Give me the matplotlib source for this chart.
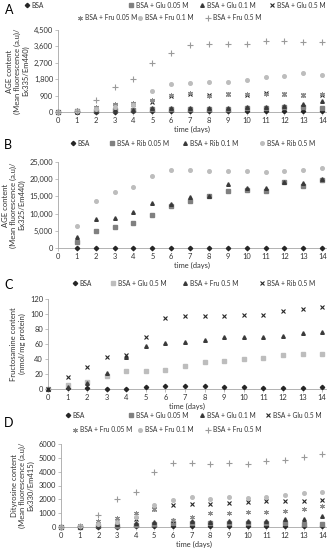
import matplotlib
matplotlib.use("Agg")
import matplotlib.pyplot as plt
from matplotlib.lines import Line2D
from matplotlib.ticker import FuncFormatter

plt.rcParams["font.family"] = ["Lato", "DejaVu Sans"]

W, H = 329, 550

DAYS = list(range(15))
DAYS_B = list(range(1, 15))

# panel A - AGE content, glucose / fructose
A_BSA = [0, 10, 20, 20, 30, 30, 30, 40, 30, 30, 40, 30, 40, 40, 40]
A_GLU_005 = [0, 30, 80, 120, 100, 150, 150, 180, 170, 170, 200, 220, 250, 250, 220]
A_GLU_01 = [0, 20, 60, 100, 120, 200, 200, 220, 220, 200, 260, 300, 350, 450, 580]
A_GLU_05 = [0, 80, 200, 350, 450, 550, 900, 1000, 950, 980, 950, 1020, 980, 950, 950]
A_FRU_005 = [0, 100, 280, 450, 520, 650, 950, 1050, 880, 1000, 970, 980, 1000, 930, 1000]
A_FRU_01 = [0, 30, 150, 300, 400, 1150, 1520, 1575, 1650, 1650, 1780, 1900, 1990, 2130, 2020]
A_FRU_05 = [0, 50, 640, 1390, 1795, 2705, 3254, 3700, 3750, 3750, 3720, 3900, 3870, 3820, 3830]

# panel B - AGE content, ribose
B_BSA = [0, 0, 0, 0, 0, 0, 0, 0, 0, 0, 0, 0, 0, 0]
B_RIB_005 = [1660, 4850, 6200, 7360, 9590, 12210, 13800, 15000, 16570, 17000, 16570, 19100, 18000, 19800]
B_RIB_01 = [3100, 8340, 8630, 10560, 13000, 12700, 14700, 15200, 18500, 17440, 17440, 19270, 19000, 20030]
B_RIB_05 = [6400, 13660, 16370, 17830, 20930, 22670, 22670, 22380, 22380, 22380, 22000, 22380, 22670, 23150]

# panel C - fructosamine
C_BSA = [0, 1, 1, 0, 0, 3, 4, 4, 4, 3, 3, 1, 1, 2, 3]
C_GLU_05 = [0, 5, 10, 17, 24, 24, 26, 31, 36, 38, 40, 42, 45, 47, 47]
C_FRU_05 = [0, 3, 8, 22, 43, 58, 61, 63, 66, 69, 70, 70, 71, 75, 76]
C_RIB_05 = [0, 16, 30, 43, 46, 70, 95, 98, 98, 98, 99, 99, 104, 107, 109]

# panel D - dityrosine
D_BSA = [0, 20, 30, 30, 40, 50, 50, 50, 50, 50, 50, 50, 50, 50, 50]
D_GLU_005 = [0, 20, 50, 100, 150, 250, 300, 320, 300, 320, 320, 300, 280, 220, 200]
D_GLU_01 = [0, 30, 100, 200, 300, 380, 500, 400, 380, 420, 420, 460, 550, 600, 820]
D_GLU_05 = [0, 60, 250, 400, 550, 1330, 1610, 1660, 1690, 1730, 1810, 1860, 1900, 1860, 1980]
D_FRU_005 = [0, 100, 400, 630, 990, 1280, 500, 700, 1010, 1010, 1080, 1080, 1130, 1300, 1500]
D_FRU_01 = [0, 60, 200, 350, 700, 1590, 1950, 2170, 2020, 2170, 2100, 2170, 2290, 2460, 2530]
D_FRU_05 = [0, 100, 890, 2050, 2550, 3980, 4630, 4630, 4580, 4630, 4560, 4750, 4870, 5060, 5280]

DARK = "#262626"
MID = "#808080"
LIGHT = "#bdbdbd"

STY_BSA = dict(marker="D", color=DARK, ms=2.2)
STY_G005 = dict(marker="s", color=MID, ms=2.4)
STY_G01 = dict(marker="^", color="#3a3a3a", ms=2.6)
STY_G05 = dict(marker="x", color=DARK, ms=3.2, mew=0.8)
STY_F005 = dict(marker=(6, 2, 0), color="#8c8c8c", ms=3.6, mew=0.7)
STY_F01 = dict(marker="o", color=LIGHT, ms=2.6)
STY_F05 = dict(marker="+", color="#9a9a9a", ms=3.8, mew=0.8)

PANEL_A = [
    ("BSA", A_BSA, STY_BSA),
    ("BSA + Glu 0.05 M", A_GLU_005, STY_G005),
    ("BSA + Glu 0.1 M", A_GLU_01, STY_G01),
    ("BSA + Glu 0.5 M", A_GLU_05, STY_G05),
    ("BSA + Fru 0.05 M", A_FRU_005, STY_F005),
    ("BSA + Fru 0.1 M", A_FRU_01, STY_F01),
    ("BSA + Fru 0.5 M", A_FRU_05, STY_F05),
]
PANEL_B = [
    ("BSA", B_BSA, STY_BSA),
    ("BSA + Rib 0.05 M", B_RIB_005, dict(marker="s", color=MID, ms=2.4)),
    ("BSA + Rib 0.1 M", B_RIB_01, dict(marker="^", color="#3a3a3a", ms=2.6)),
    ("BSA + Rib 0.5 M", B_RIB_05, dict(marker="o", color=LIGHT, ms=2.6)),
]
PANEL_C = [
    ("BSA", C_BSA, STY_BSA),
    ("BSA + Glu 0.5 M", C_GLU_05, dict(marker="s", color=LIGHT, ms=2.4)),
    ("BSA + Fru 0.5 M", C_FRU_05, dict(marker="^", color="#3a3a3a", ms=2.6)),
    ("BSA + Rib 0.5 M", C_RIB_05, dict(marker="x", color=DARK, ms=3.2, mew=0.8)),
]
PANEL_D = [
    ("BSA", D_BSA, STY_BSA),
    ("BSA + Glu 0.05 M", D_GLU_005, STY_G005),
    ("BSA + Glu 0.1 M", D_GLU_01, STY_G01),
    ("BSA + Glu 0.5 M", D_GLU_05, STY_G05),
    ("BSA + Fru 0.05 M", D_FRU_005, STY_F005),
    ("BSA + Fru 0.1 M", D_FRU_01, STY_F01),
    ("BSA + Fru 0.5 M", D_FRU_05, STY_F05),
]

fig = plt.figure(figsize=(W / 100, H / 100), dpi=100)


def px_axes(left, top, right, bottom):
    return fig.add_axes([left / W, 1 - bottom / H, (right - left) / W, (bottom - top) / H])


def legend_entries(entries, spots):
    for (label, _, sty), (x, y) in zip(entries, spots):
        h = Line2D([], [], linestyle="none", **sty)
        fig.legend(handles=[h], labels=[label], loc="center left",
                   bbox_to_anchor=((x - 2.3) / W, 1 - y / H), frameon=False,
                   borderpad=0, borderaxespad=0, handlelength=0.7,
                   handletextpad=0.35, fontsize=4.8, labelcolor="#333333")


def panel(rect, letter, letter_xy, days, entries, spots, ymax, ystep, ylabel, comma):
    ax = px_axes(*rect)
    for label, vals, sty in entries:
        ax.plot(days, vals, linestyle="none", clip_on=False, zorder=3, **sty)
    ax.set_xlim(0, 14.2)
    ax.set_ylim(0, ymax)
    ax.set_xticks(DAYS)
    ax.set_yticks(range(0, ymax + 1, ystep))
    if comma:
        ax.yaxis.set_major_formatter(FuncFormatter(lambda v, p: f"{v:,.0f}"))
    for s in ("top", "right"):
        ax.spines[s].set_visible(False)
    for s in ("left", "bottom"):
        ax.spines[s].set_color("#a6a6a6")
        ax.spines[s].set_linewidth(0.6)
    ax.tick_params(labelsize=5.4, length=2, width=0.5, color="#a6a6a6",
                   labelcolor="#333333", pad=1.5)
    ax.set_xlabel("time (days)", fontsize=5.4, color="#333333", labelpad=1.5)
    ax.set_ylabel(ylabel, fontsize=5.5, color="#333333", labelpad=3, linespacing=1.2)
    fig.text(letter_xy[0] / W, 1 - letter_xy[1] / H, letter, fontsize=9, va="baseline")
    legend_entries(entries, spots)
    return ax


panel((58, 30, 326, 112), "A", (5, 14), DAYS, PANEL_A,
      [(27, 5), (131, 5), (202, 5), (272, 5), (80, 18), (140, 18), (208, 18)],
      4500, 900, "AGE content\n(Mean fluorescence (a.u)/\nEx335/Em440)", True)

panel((58, 162, 326, 248), "B", (4, 149), DAYS_B, PANEL_B,
      [(73, 143), (112, 143), (185, 143), (262, 143)],
      25000, 5000, "AGE content\n(Mean fluorescence (a.u)/\nEx325/Em440)", True)

panel((48, 299, 326, 389), "C", (4, 289), DAYS, PANEL_C,
      [(75, 283), (113, 283), (185, 283), (262, 283)],
      120, 20, "Fructosamine content\n(nmol/mg protein)", False)

panel((61, 444, 326, 527), "D", (4, 427), DAYS, PANEL_D,
      [(68, 415), (131, 415), (202, 415), (268, 415), (75, 430), (140, 430), (208, 430)],
      6000, 1000, "Dityrosine content\n(Mean fluorescence (a.u)/\nEx330/Em415)", False)

fig.savefig("out.png", dpi=100)
